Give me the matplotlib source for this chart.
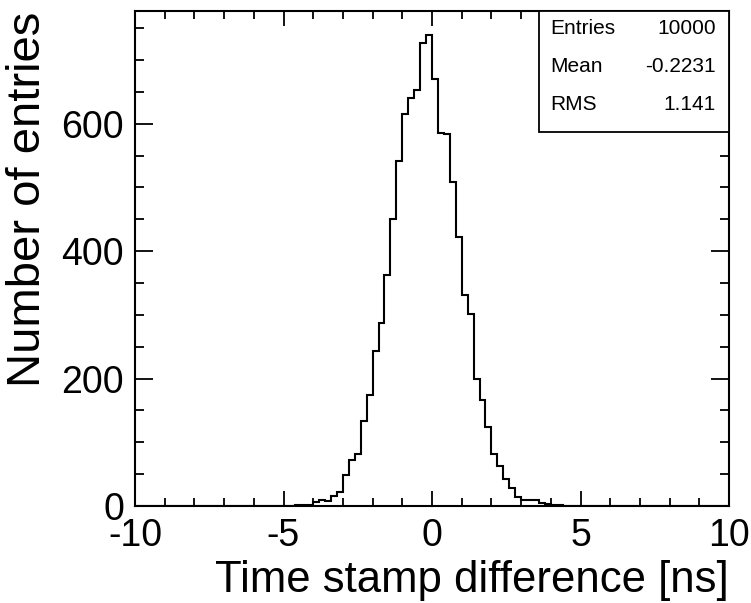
import numpy as np
import matplotlib
matplotlib.use("Agg")
from matplotlib import pyplot as plt
from matplotlib.patches import Rectangle
from matplotlib.ticker import MultipleLocator

plt.rcParams['font.family'] = ['Liberation Sans', 'DejaVu Sans']
plt.rcParams['axes.unicode_minus'] = False

# 100 bins of 0.2 ns from -10 to 10
bin_edges = np.linspace(-10, 10, 101)
counts = [
    0, 0, 0, 0, 0, 0, 0, 0, 0, 0,
    0, 0, 0, 0, 0, 0, 0, 0, 0, 0,
    0, 0, 0, 0, 0, 0, 0, 1, 2, 2,
    6, 9, 8, 16, 22, 48, 72, 82, 133, 175,
    244, 287, 363, 451, 542, 615, 641, 653, 727, 740,
    670, 585, 584, 508, 423, 331, 302, 200, 167, 124,
    81, 63, 42, 28, 14, 10, 10, 10, 5, 3,
    1, 1, 0, 0, 0, 0, 0, 0, 0, 0,
    0, 0, 0, 0, 0, 0, 0, 0, 0, 0,
    0, 0, 0, 0, 0, 0, 0, 0, 0, 0,
]

stat_names = ["Entries", "Mean", "RMS"]
stat_values = ["10000", "-0.2231", "1.141"]

fig = plt.figure(figsize=(7.51, 6.03), dpi=100)
W, H = 751, 603
x0, x1, ytop, ybot = 135, 729, 11, 506
ax = fig.add_axes([x0 / W, (H - ybot) / H, (x1 - x0) / W, (ybot - ytop) / H])

ax.stairs(counts, bin_edges, color="black", linewidth=1.5)

ax.set_xlim(-10, 10)
ax.set_ylim(0, 777)
ax.xaxis.set_major_locator(MultipleLocator(5))
ax.xaxis.set_minor_locator(MultipleLocator(1))
ax.yaxis.set_major_locator(MultipleLocator(200))
ax.yaxis.set_minor_locator(MultipleLocator(50))

for s in ax.spines.values():
    s.set_linewidth(1.5)

ax.tick_params(which="both", direction="in", top=True, right=True, width=1.3, labelsize=27)
ax.tick_params(axis="x", which="major", length=11, pad=9)
ax.tick_params(axis="x", which="minor", length=5.5)
ax.tick_params(axis="y", which="major", length=13, pad=8)
ax.tick_params(axis="y", which="minor", length=6.5)

fig.text(28 / W, (H - 12) / H, "Number of entries", rotation=90, ha="center", va="top", fontsize=34)
fig.text(729 / W, 11 / H, "Time stamp difference [ns]", ha="right", va="baseline", fontsize=31.5)

# stats box
bx0 = (539 - x0) / (x1 - x0)
by0 = (ybot - 132) / (ybot - ytop)
ax.add_patch(Rectangle((bx0, by0), 1 - bx0, 1 - by0, transform=ax.transAxes,
                       facecolor="white", edgecolor="black", linewidth=1.3, zorder=5))
row_y = [29, 67, 105]
for name, val, yp in zip(stat_names, stat_values, row_y):
    ya = (ybot - yp) / (ybot - ytop)
    ax.text((550 - x0) / (x1 - x0), ya, name, transform=ax.transAxes, ha="left", va="center",
            fontsize=15, zorder=6)
    ax.text((716 - x0) / (x1 - x0), ya, val, transform=ax.transAxes, ha="right", va="center",
            fontsize=15, zorder=6)

fig.savefig("out.png", dpi=100)
